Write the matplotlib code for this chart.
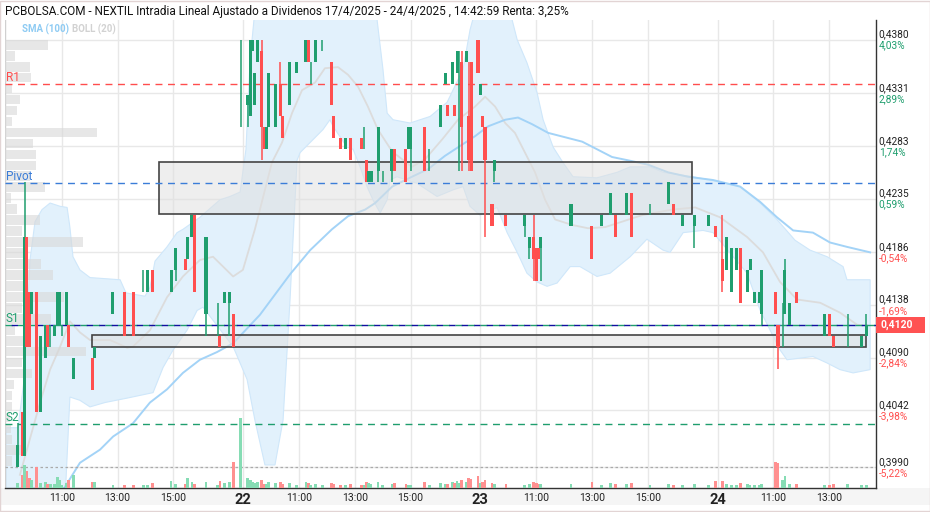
import matplotlib
matplotlib.use("Agg")
import matplotlib.pyplot as plt
import matplotlib.transforms as mtransforms
from matplotlib.patches import Rectangle

plt.rcParams['font.family'] = ['Roboto', 'DejaVu Sans']

GREEN = '#1f9e6e'
RED = '#ff4f4f'
VGREEN = '#86dcb4'
VRED = '#ff9090'

# trading days shown, session 9:00 - 17:30 (8.5 h per day, no gaps)
days = ['17', '22', '23', '24']
SESSION_H = 8.5


def pos(stamp):
    d, hm = stamp.split()
    hh, mm = hm.split(':')
    return days.index(d) * SESSION_H + int(hh) - 9 + int(mm) / 60.0


# ---- candles -------------------------------------------------------------
c_time = [
    # 17/4
    '17 09:25', '17 09:35', '17 09:40', '17 09:45', '17 09:50', '17 09:55', '17 10:05', '17 10:15',
    '17 10:25', '17 10:30', '17 10:35', '17 10:45', '17 10:50', '17 10:55', '17 11:00', '17 11:10',
    '17 11:15', '17 11:25', '17 12:05', '17 12:10', '17 12:50', '17 13:15', '17 13:35', '17 13:55',
    '17 14:05', '17 14:15', '17 14:55', '17 15:05', '17 15:25', '17 15:30', '17 15:40', '17 15:45',
    '17 16:10', '17 16:35', '17 16:40', '17 16:50', '17 17:00', '17 17:10', '17 17:25',
    # 22/4
    '22 09:10', '22 09:15', '22 09:20', '22 09:25', '22 09:30', '22 09:40', '22 09:45', '22 09:50',
    '22 09:55', '22 10:10', '22 10:20', '22 10:25', '22 10:40', '22 10:55', '22 11:15', '22 11:20',
    '22 11:25', '22 11:35', '22 11:50', '22 12:10', '22 12:15', '22 12:30', '22 12:40', '22 12:50',
    '22 13:15', '22 13:20', '22 13:25', '22 13:30', '22 13:35', '22 13:50', '22 14:00', '22 14:20',
    '22 14:25', '22 14:50', '22 14:55', '22 15:00', '22 15:30', '22 15:40', '22 16:05', '22 16:15',
    '22 16:20', '22 16:30', '22 16:35', '22 16:40', '22 16:45', '22 16:50', '22 17:00', '22 17:05',
    '22 17:10', '22 17:25',
    # 23/4
    '23 09:00', '23 09:05', '23 09:10', '23 09:25', '23 09:30', '23 09:55', '23 10:35', '23 10:45',
    '23 10:55', '23 11:00', '23 11:05', '23 11:10', '23 12:15', '23 13:00', '23 13:20', '23 13:40',
    '23 13:50', '23 14:15', '23 14:25', '23 15:05', '23 15:45', '23 15:55', '23 16:15', '23 16:40',
    '23 17:10', '23 17:25',
    # 24/4
    '24 09:10', '24 09:20', '24 09:30', '24 09:40', '24 09:50', '24 10:05', '24 10:10', '24 10:20',
    '24 10:30', '24 10:35', '24 11:05', '24 11:10', '24 11:20', '24 11:25', '24 11:35', '24 11:50',
    '24 12:50', '24 13:00', '24 13:10', '24 13:40', '24 14:10', '24 14:20',
]
c_open = [
    .3990, .4040, .4000, .4200, .4150, .4130, .4150, .4040, .4090, .4120, .4110, .4110, .4120, .4120,
    .4115, .4120, .4120, .4070, .4090, .4090, .4130, .4150, .4150, .4160, .4150, .4170, .4150, .4170,
    .4180, .4180, .4200, .4220, .4130, .4130, .4110, .4140, .4140, .4130, .4380,
    .4320, .4310, .4370, .4320, .4360, .4370, .4300, .4280, .4300, .4300, .4340, .4310, .4320, .4350,
    .4360, .4380, .4360, .4360, .4380, .4360, .4310, .4290, .4280, .4290, .4290, .4285, .4270, .4250,
    .4250, .4260, .4255, .4260, .4280, .4280, .4280, .4280, .4300, .4270, .4300, .4340, .4320, .4340,
    .4320, .4350, .4370, .4360, .4360, .4310, .4360, .4380,
    .4330, .4310, .4300, .4230, .4260, .4220, .4210, .4190, .4200, .4190, .4190, .4190, .4210, .4210,
    .4210, .4220, .4220, .4220, .4240, .4225, .4230, .4230, .4210, .4210, .4210, .4210,
    .4180, .4170, .4150, .4170, .4190, .4150, .4170, .4140, .4140, .4130, .4150, .4120, .4140, .4130,
    .4120, .4150, .4110, .4130, .4110, .4125, .4100, .4110,
]
c_high = [
    .4030, .4040, .4250, .4200, .4150, .4150, .4150, .4110, .4120, .4120, .4120, .4120, .4150, .4150,
    .4120, .4150, .4120, .4090, .4090, .4100, .4150, .4150, .4150, .4170, .4170, .4170, .4170, .4190,
    .4180, .4200, .4220, .4220, .4200, .4140, .4110, .4150, .4150, .4130, .4380,
    .4330, .4380, .4380, .4350, .4380, .4380, .4300, .4300, .4350, .4340, .4360, .4310, .4360, .4360,
    .4380, .4380, .4360, .4380, .4380, .4360, .4310, .4290, .4290, .4290, .4290, .4300, .4270, .4260,
    .4260, .4300, .4260, .4280, .4280, .4280, .4300, .4300, .4300, .4280, .4320, .4350, .4320, .4360,
    .4320, .4370, .4370, .4370, .4370, .4360, .4360, .4380,
    .4340, .4310, .4300, .4230, .4270, .4220, .4220, .4200, .4220, .4190, .4190, .4200, .4230, .4210,
    .4220, .4240, .4220, .4240, .4240, .4230, .4250, .4230, .4220, .4220, .4220, .4210,
    .4220, .4200, .4190, .4190, .4190, .4170, .4180, .4150, .4150, .4170, .4150, .4120, .4140, .4180,
    .4140, .4150, .4130, .4130, .4110, .4130, .4110, .4130,
]
c_low = [
    .3990, .4000, .4000, .4100, .4100, .4130, .4040, .4040, .4090, .4100, .4100, .4110, .4120, .4120,
    .4110, .4120, .4100, .4070, .4060, .4090, .4130, .4110, .4110, .4150, .4150, .4150, .4150, .4160,
    .4170, .4180, .4200, .4150, .4110, .4110, .4100, .4140, .4110, .4100, .4300,
    .4300, .4310, .4370, .4320, .4360, .4270, .4280, .4280, .4300, .4300, .4310, .4290, .4320, .4350,
    .4360, .4360, .4340, .4360, .4370, .4320, .4290, .4280, .4280, .4270, .4280, .4280, .4250, .4250,
    .4250, .4250, .4250, .4250, .4260, .4250, .4280, .4260, .4260, .4260, .4300, .4340, .4310, .4340,
    .4310, .4350, .4260, .4260, .4360, .4260, .4260, .4350,
    .4330, .4300, .4200, .4210, .4250, .4210, .4200, .4180, .4160, .4160, .4180, .4160, .4210, .4180,
    .4210, .4220, .4200, .4220, .4200, .4220, .4230, .4220, .4210, .4190, .4210, .4200,
    .4150, .4170, .4150, .4170, .4140, .4150, .4170, .4140, .4140, .4120, .4130, .4080, .4100, .4130,
    .4120, .4140, .4110, .4110, .4100, .4100, .4100, .4110,
]
c_close = [
    .4010, .4000, .4200, .4100, .4100, .4150, .4040, .4110, .4120, .4100, .4110, .4120, .4150, .4150,
    .4115, .4150, .4100, .4090, .4060, .4100, .4150, .4110, .4110, .4160, .4170, .4150, .4170, .4190,
    .4170, .4200, .4220, .4150, .4200, .4130, .4100, .4150, .4150, .4100, .4380,
    .4330, .4380, .4380, .4350, .4380, .4300, .4280, .4300, .4350, .4340, .4310, .4290, .4360, .4360,
    .4380, .4360, .4360, .4380, .4380, .4320, .4290, .4280, .4290, .4270, .4280, .4285, .4250, .4260,
    .4260, .4300, .4255, .4280, .4260, .4250, .4300, .4300, .4260, .4270, .4320, .4350, .4310, .4360,
    .4310, .4370, .4370, .4300, .4370, .4270, .4260, .4350,
    .4340, .4300, .4270, .4210, .4270, .4210, .4220, .4200, .4180, .4160, .4180, .4200, .4230, .4180,
    .4220, .4240, .4200, .4240, .4200, .4225, .4250, .4220, .4220, .4220, .4220, .4200,
    .4160, .4200, .4190, .4190, .4140, .4170, .4180, .4150, .4150, .4170, .4130, .4100, .4140, .4170,
    .4140, .4140, .4130, .4110, .4100, .4125, .4110, .4120,
]
c_vol = [
    5, 13, 23, 17, 10, 8, 21, 5, 6, 4, 4, 4, 11, 8, 3, 5, 8, 13, 6, 6, 3, 3, 3, 3, 3, 5, 7, 4,
    4, 10, 6, 4, 6, 3, 7, 5, 6, 26, 70,
    10, 8, 6, 5, 6, 8, 4, 4, 6, 5, 6, 4, 5, 3, 6, 5, 3, 4, 3, 5, 4, 3, 3, 4, 3, 3, 6, 5,
    4, 6, 3, 4, 5, 4, 3, 3, 6, 3, 5, 4, 4, 6, 5, 7, 5, 8, 6, 10, 9, 12,
    5, 6, 8, 5, 4, 4, 3, 4, 6, 5, 4, 4, 4, 6, 3, 5, 4, 4, 5, 3, 4, 3, 3, 4, 3, 7,
    7, 4, 3, 3, 5, 4, 3, 3, 3, 4, 26, 25, 8, 12, 4, 4, 3, 3, 4, 4, 3, 3,
]

# ---- Bollinger (20) and SMA (100) (hours, price) ---------------------------
up_h = [0.00, 0.43, 0.65, 0.86, 1.04, 1.29, 1.58, 1.94, 2.19, 2.29, 2.40, 2.65, 3.01, 4.09, 4.30,
        4.98, 5.16, 5.34, 5.77, 6.13, 6.34, 6.95, 7.67, 8.03, 8.39, 8.60, 8.75, 8.92, 13.23, 13.30,
        13.51, 13.66, 13.87, 14.48, 15.20, 15.81, 16.38, 16.63, 16.81, 18.06, 18.32, 18.67, 19.03,
        19.25, 19.61, 19.96, 20.32, 21.18, 21.90, 22.37, 23.08, 23.55, 24.62, 25.23, 26.31, 27.03,
        27.63, 28.28, 28.82, 29.43, 30.00, 30.14, 30.97]
up_p = [.4026, .4026, .4070, .4179, .4214, .4225, .4231, .4228, .4227, .4209, .4182, .4170, .4163,
        .4161, .4149, .4146, .4154, .4178, .4191, .4204, .4207, .4218, .4234, .4237, .4241, .4280,
        .4362, .4407, .4407, .4398, .4353, .4313, .4307, .4304, .4310, .4323, .4353, .4389, .4406,
        .4406, .4380, .4359, .4332, .4307, .4282, .4268, .4255, .4254, .4259, .4264, .4264, .4259,
        .4255, .4252, .4246, .4231, .4216, .4197, .4188, .4182, .4173, .4161, .4161]
lo_h = [0.00, 2.04, 2.15, 2.29, 2.65, 3.01, 3.55, 4.34, 5.27, 5.63, 5.99, 6.49, 6.85, 7.06, 7.42,
        8.14, 8.64, 8.92, 9.28, 9.64, 9.93, 10.18, 10.43, 10.54, 11.36, 11.61, 11.72, 12.22, 12.44,
        12.69, 12.94, 13.15, 13.41, 13.66, 13.76, 14.01, 14.73, 15.45, 16.02, 16.38, 16.63, 16.99,
        17.60, 17.96, 18.32, 18.67, 19.03, 19.39, 19.75, 20.22, 20.57, 21.18, 21.65, 22.37, 22.97,
        23.55, 23.80, 24.27, 24.98, 25.34, 26.56, 27.03, 27.74, 27.99, 28.92, 29.43, 29.89, 30.36,
        30.97]
lo_p = [.3960, .3960, .3978, .4054, .4051, .4045, .4049, .4053, .4058, .4081, .4097, .4115, .4133,
        .4136, .4124, .4100, .4070, .4033, .3992, .3992, .4033, .4143, .4270, .4277, .4298, .4307,
        .4301, .4282, .4280, .4264, .4246, .4234, .4222, .4234, .4252, .4255, .4249, .4237, .4243,
        .4246, .4228, .4220, .4227, .4204, .4186, .4167, .4159, .4155, .4158, .4173, .4173, .4164,
        .4167, .4182, .4198, .4188, .4186, .4204, .4206, .4204, .4167, .4133, .4097, .4088, .4091,
        .4085, .4079, .4076, .4079]
mid_h = [0.50, 0.75, 1.22, 1.58, 1.94, 2.29, 2.65, 3.01, 3.73, 4.34, 4.55, 5.16, 5.77, 6.34, 6.95,
         7.42, 8.14, 8.49, 8.92, 9.53, 9.89, 10.25, 10.61, 11.08, 11.43, 11.90, 12.26, 12.62, 12.97,
         13.33, 13.84, 14.55, 15.02, 15.63, 16.20, 16.81, 17.17, 17.53, 17.89, 18.24, 18.60, 18.96,
         19.32, 19.68, 20.29, 20.86, 21.47, 22.08, 22.80, 23.87, 24.70, 25.59, 26.56, 27.13, 27.74,
         28.35, 29.18, 29.89, 30.50, 30.86]
mid_p = [.3983, .4006, .4049, .4079, .4100, .4123, .4113, .4106, .4106, .4099, .4100, .4115, .4145,
         .4164, .4179, .4182, .4164, .4170, .4207, .4268, .4286, .4313, .4334, .4341, .4354, .4355,
         .4348, .4337, .4319, .4298, .4278, .4264, .4271, .4289, .4307, .4319, .4328, .4319, .4304,
         .4295, .4277, .4259, .4234, .4216, .4211, .4208, .4209, .4214, .4220, .4225, .4227, .4218,
         .4200, .4186, .4159, .4143, .4140, .4131, .4120, .4119]
sma_h = [2.04, 2.65, 3.37, 3.84, 4.55, 5.16, 5.77, 6.34, 6.95, 7.56, 8.14, 9.10, 10.18, 10.90,
         11.68, 12.26, 12.87, 13.23, 13.84, 14.55, 15.13, 15.73, 16.45, 16.81, 17.28, 17.89, 18.35,
         18.85, 19.43, 20.04, 20.65, 21.11, 21.72, 22.29, 23.01, 23.73, 24.44, 25.34, 26.31, 27.03,
         27.63, 28.21, 28.92, 29.53, 30.14, 30.97]
sma_p = [.3969, .3994, .4006, .4018, .4030, .4049, .4061, .4076, .4088, .4095, .4103, .4129, .4166,
         .4188, .4207, .4219, .4225, .4231, .4246, .4255, .4262, .4274, .4286, .4292, .4301, .4307,
         .4309, .4303, .4295, .4291, .4287, .4281, .4273, .4270, .4266, .4259, .4255, .4252, .4246,
         .4232, .4218, .4206, .4204, .4195, .4191, .4186]

# ---- volume profile (price bin top, relative volume) ----------------------
prof_top = [.438, .437, .436, .435, .434, .433, .432, .431, .430, .429, .428, .427, .426, .425,
            .424, .423, .422, .421, .420, .419, .418, .417, .416, .415, .414, .413, .412, .411,
            .410, .409, .408, .407, .406, .405, .404, .403, .402, .401, .400]
prof_vol = [43, 10, 25, 26, 7, 15, 12, 7, 92, 28, 31, 31, 25, 40, 6, 12, 35, 17, 78, 19, 36, 48,
            18, 59, 17, 46, 10, 25, 81, 17, 27, 9, 7, 7, 5, 6, 7, 17, 7]

# ---- levels and zones ------------------------------------------------------
levels = {'R1': (0.4340, '#ff4d4d'), 'Pivot': (0.4249, '#3b7dd8'),
          'S1': (0.4120, GREEN), 'S2': (0.4029, GREEN)}
last_price = 0.4120
period_low = 0.3990
zone_start = ['17 14:30', '17 12:05']
zone_end = ['23 16:35', '24 14:20']
zone_top = [0.4268, 0.4111]
zone_bottom = [0.4221, 0.4100]

yticks = [0.4380, 0.4331, 0.4283, 0.4235, 0.4186, 0.4138, 0.4090, 0.4042, 0.3990]
ytick_lbl = ['0,4380', '0,4331', '0,4283', '0,4235', '0,4186', '0,4138', '0,4090', '0,4042', '0,3990']
ytick_pct = ['4,03%', '2,89%', '1,74%', '0,59%', '-0,54%', '-1,69%', '-2,84%', '-3,98%', '-5,22%']

# ---------------------------------------------------------------------------
fig = plt.figure(figsize=(9.3, 5.12), dpi=100)
fig.patches.append(Rectangle((0, 7 / 512), 1, 17 / 512, transform=fig.transFigure,
                             fc='#f5f5f5', ec='none', zorder=-5))
fig.patches.append(Rectangle((0.0005, 0.001), 0.999, 0.998, transform=fig.transFigure,
                             fill=False, ec='#e2d4d4', lw=1))
ax = fig.add_axes([5 / 930, 24 / 512, 871 / 930, 468 / 512])
ax.set_xlim(-0.036, 31.18)
ax.set_ylim(0.3971, 0.4398)
blend = mtransforms.blended_transform_factory(ax.transAxes, ax.transData)

# grid
xt, xl = [], []
for d in range(len(days)):
    for hh in (0, 2, 4, 6):
        p = d * SESSION_H + hh
        if p > 31.1 or (d == 0 and hh == 0):
            continue
        xt.append(p)
        xl.append(days[d] if hh == 0 else '%d:00' % (9 + hh))
ax.set_xticks(xt)
ax.set_xticklabels(xl)
for lab, txt in zip(ax.get_xticklabels(), xl):
    if ':' in txt:
        lab.set_fontsize(7.5)
    else:
        lab.set_fontweight('bold')
        lab.set_fontsize(10.5)
    lab.set_color('#222222')
ax.tick_params(axis='x', length=0, pad=3.5)
ax.set_yticks(yticks)
ax.set_yticklabels([])
ax.tick_params(axis='y', length=0)
ax.grid(True, color='#e8e8e8', lw=1, zorder=0)
ax.set_axisbelow(True)

# bollinger band + sma
ax.fill(list(up_h) + lo_h[::-1], list(up_p) + lo_p[::-1], fc='#e2f1fc', ec='#cfe7fa', lw=0.8, zorder=1)
ax.plot(mid_h, mid_p, color='#dcdcdc', lw=1.3, zorder=2)
ax.plot(sma_h, sma_p, color='#a3d3f7', lw=1.4, zorder=2)

# volume profile on the left
pmax = max(prof_vol)
ax.barh([t - 0.00046 for t in prof_top], [v / pmax * 92 / 871 for v in prof_vol], height=0.00088,
        left=0, color='#d8d8d8', alpha=0.6, transform=blend, zorder=2.5)

# zones
for s, e, t, b in zip(zone_start, zone_end, zone_top, zone_bottom):
    ax.add_patch(Rectangle((pos(s), b), pos(e) - pos(s), t - b, fc=(0.88, 0.88, 0.88, 0.55),
                           ec='#444444', lw=1.2, zorder=3))

# level lines
for name, (val, col) in levels.items():
    ax.axhline(val, color=col, lw=1, ls=(0, (5, 4)), zorder=3.5)
    ax.text(0.001, val, name, color=col, fontsize=8.5, transform=blend, va='bottom',
            ha='left', zorder=6)
ax.axhline(last_price, color='#1010a0', lw=1, ls=(4.5, (4.5, 4.5)), zorder=3.6)
ax.axhline(period_low, color='#aaaaaa', lw=0.9, ls=(0, (2, 2)), zorder=3.5)

# candles
cx = [pos(s) for s in c_time]
ccol = [GREEN if c >= o else RED for o, c in zip(c_open, c_close)]
ax.vlines(cx, c_low, c_high, colors=ccol, lw=1.1, zorder=4)
ax.bar(cx, [c - o for o, c in zip(c_open, c_close)], bottom=c_open, width=0.11, color=ccol,
       zorder=4.5)

# volume
axv = ax.twinx()
axv.set_ylim(0, max(c_vol) * 468 / 70)
axv.bar(cx, c_vol, width=0.1, color=[VGREEN if c == GREEN else VRED for c in ccol])
axv.set_axis_off()

# spines
for side in ('top', 'left'):
    ax.spines[side].set_visible(False)
for side in ('right', 'bottom'):
    ax.spines[side].set_color('#333333')
    ax.spines[side].set_linewidth(1)
ax.axvline(-0.036, color='#d0d0d0', lw=1)

# right axis labels
for v, lb, pc in zip(yticks, ytick_lbl, ytick_pct):
    ax.annotate(lb, xy=(1, v), xycoords=blend, xytext=(2, 3.8), textcoords='offset points',
                va='center', ha='left', fontsize=7.3, color='#222222')
    ax.annotate(pc, xy=(1, v), xycoords=blend, xytext=(2, -4.3), textcoords='offset points',
                va='center', ha='left', fontsize=7.3, color=RED if pc.startswith('-') else GREEN)
ax.add_patch(Rectangle((1.0, last_price - 0.00073), 49 / 871, 0.00146, transform=blend,
                       fc='#ff5252', ec='none', clip_on=False, zorder=7))
ax.annotate('0,4120', xy=(1, last_price), xycoords=blend, xytext=(3, 0), textcoords='offset points',
            va='center', ha='left', fontsize=7.5, color='white', fontweight='bold', zorder=8)

# header texts
fig.text(5 / 930, 1 - 11 / 512, 'PCBOLSA.COM - NEXTIL Intradia Lineal Ajustado a Dividenos '
         '17/4/2025 - 24/4/2025 , 14:42:59 Renta: 3,25%', fontsize=8.5, va='center', ha='left',
         color='#111111')
fig.text(22 / 930, 1 - 29 / 512, 'SMA (100)', fontsize=7, fontweight='bold', color='#8ecbf3',
         va='center', ha='left')
fig.text(72 / 930, 1 - 29 / 512, 'BOLL (20)', fontsize=7, fontweight='bold', color='#d2d2d2',
         va='center', ha='left')

fig.savefig('out.png', dpi=100)
